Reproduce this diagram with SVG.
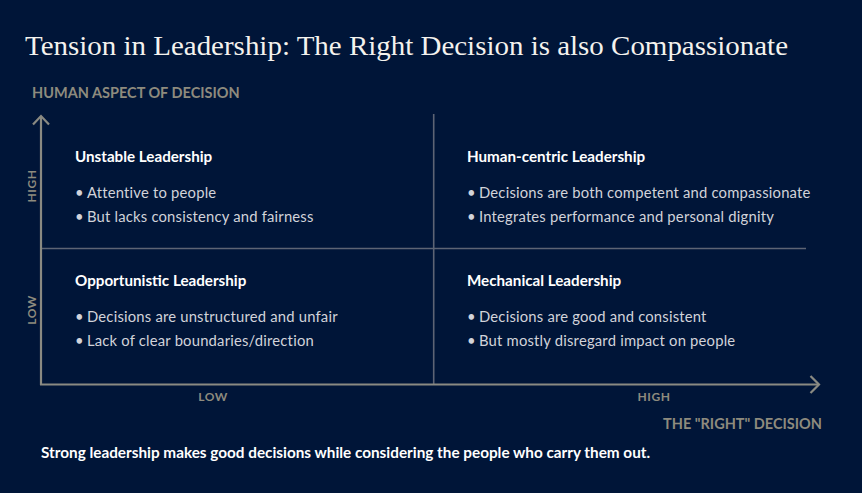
<svg xmlns="http://www.w3.org/2000/svg" width="862" height="493" viewBox="0 0 862 493">
<style>
.title{font-family:"Liberation Serif","DejaVu Serif",serif;font-size:27px;fill:#f4f2ee}
.axis-title{font-family:Lato,"Open Sans",sans-serif;font-weight:700;font-size:14.5px;fill:#8e8b7e}
.tick{font-family:Lato,"Open Sans",sans-serif;font-weight:700;font-size:12px;fill:#8e8b7e;letter-spacing:0.5px}
.head{font-family:Lato,"Open Sans",sans-serif;font-weight:700;font-size:15.2px;fill:#ffffff}
.bul{font-family:Lato,"Open Sans",sans-serif;font-size:14.8px;fill:#d2d3da;letter-spacing:0.2px}
.foot{font-family:Lato,"Open Sans",sans-serif;font-weight:700;font-size:15.3px;fill:#ffffff}
.axis{stroke:#8a8a82;stroke-width:2.2;fill:none}
.div{stroke:#5d6474;stroke-width:1.6;fill:none}
</style>
<rect width="862" height="493" fill="#001538"/>
<text class="title" x="25" y="55" textLength="763" lengthAdjust="spacingAndGlyphs">Tension in Leadership: The Right Decision is also Compassionate</text>
<text class="axis-title" x="32" y="98">HUMAN ASPECT OF DECISION</text>
<g id="connectors">
<line class="div" x1="433.7" y1="114" x2="433.7" y2="384"/>
<line class="div" x1="41" y1="248.5" x2="806" y2="248.5"/>
<line class="axis" x1="41" y1="117" x2="41" y2="385"/>
<line class="axis" x1="40" y1="384.5" x2="818" y2="384.5"/>
<polyline class="axis" points="33,124.5 41,116 49,124.5"/>
<polyline class="axis" points="810.5,376 819,384.5 810.5,393"/>
</g>
<text class="tick" transform="translate(35.5,186) rotate(-90)" text-anchor="middle">HIGH</text>
<text class="tick" transform="translate(35.5,310) rotate(-90)" text-anchor="middle">LOW</text>
<text class="tick" x="213" y="401" text-anchor="middle">LOW</text>
<text class="tick" x="654" y="401" text-anchor="middle">HIGH</text>
<text class="axis-title" x="822" y="429" text-anchor="end">THE "RIGHT" DECISION</text>
<g id="unstable">
<text class="head" x="75" y="162">Unstable Leadership</text>
<text class="bul" y="198"><tspan x="75">•</tspan><tspan x="87">Attentive to people</tspan></text>
<text class="bul" y="222"><tspan x="75">•</tspan><tspan x="87">But lacks consistency and fairness</tspan></text>
</g>
<g id="human-centric">
<text class="head" x="467" y="162">Human-centric Leadership</text>
<text class="bul" y="198"><tspan x="467">•</tspan><tspan x="479">Decisions are both competent and compassionate</tspan></text>
<text class="bul" y="222"><tspan x="467">•</tspan><tspan x="479">Integrates performance and personal dignity</tspan></text>
</g>
<g id="opportunistic">
<text class="head" x="75" y="286">Opportunistic Leadership</text>
<text class="bul" y="322"><tspan x="75">•</tspan><tspan x="87">Decisions are unstructured and unfair</tspan></text>
<text class="bul" y="346"><tspan x="75">•</tspan><tspan x="87">Lack of clear boundaries/direction</tspan></text>
</g>
<g id="mechanical">
<text class="head" x="467" y="286">Mechanical Leadership</text>
<text class="bul" y="322"><tspan x="467">•</tspan><tspan x="479">Decisions are good and consistent</tspan></text>
<text class="bul" y="346"><tspan x="467">•</tspan><tspan x="479">But mostly disregard impact on people</tspan></text>
</g>
<text class="foot" x="41" y="458">Strong leadership makes good decisions while considering the people who carry them out.</text>
</svg>
